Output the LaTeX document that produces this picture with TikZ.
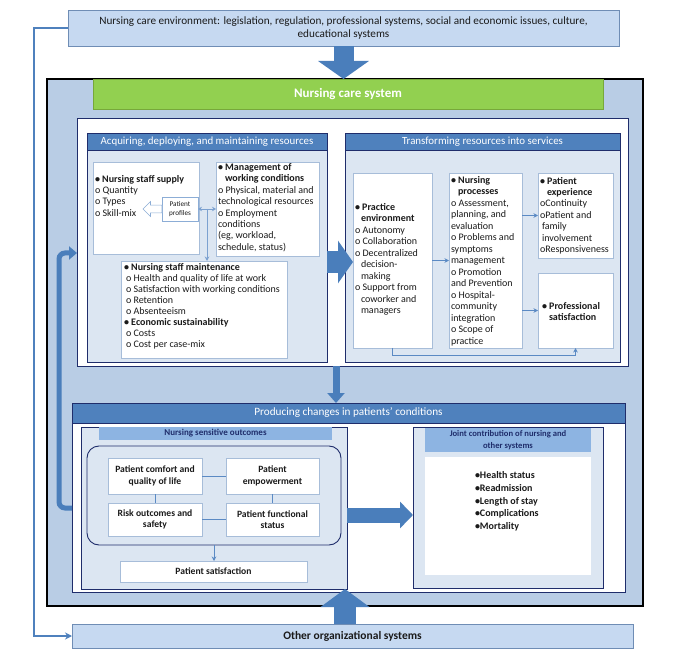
\documentclass[tikz,border=0pt]{standalone}
\usepackage{fontspec}
\setmainfont{Carlito}
\usetikzlibrary{arrows.meta,shapes.arrows,fit,calc}
\definecolor{bgblue}{HTML}{B9CDE5}
\definecolor{envblue}{HTML}{C6D9F1}
\definecolor{envline}{HTML}{6F8DB5}
\definecolor{hdrblue}{HTML}{4F81BD}
\definecolor{secfill}{HTML}{DCE6F2}
\definecolor{navy}{HTML}{1F2D6B}
\definecolor{boxline}{HTML}{A7BDD9}
\definecolor{arrowblue}{HTML}{4A7EBB}
\definecolor{thinblue}{HTML}{5B8AC4}
\definecolor{grn}{HTML}{92D050}
\definecolor{grnline}{HTML}{77A83A}
\definecolor{midblue}{HTML}{8DB4E2}
\definecolor{txtc}{HTML}{1A1A1A}
\begin{document}
\begin{tikzpicture}[x=1pt,y=-1pt,
  every node/.style={inner sep=0pt,outer sep=0pt},
  envbox/.style={draw=envline,fill=envblue,line width=0.9pt},
  frame/.style={draw=navy,line width=0.9pt},
  hdr/.style={fill=hdrblue,draw=navy,line width=0.7pt},
  ibox/.style={draw=boxline,fill=white,line width=0.6pt},
  txt/.style={font=\fontsize{10}{11.4}\selectfont,align=left,anchor=north west,text=txtc},
  btxt/.style={font=\bfseries\fontsize{9.6}{11.5}\selectfont,align=center,text=txtc},
  htxt/.style={font=\fontsize{10.9}{12}\selectfont,text=white},
  thinarr/.style={draw=thinblue,line width=0.8pt,-{Stealth[length=4.5pt,width=4.5pt]}},
  link/.style={draw=thinblue,line width=0.8pt},
  bigarr/.style={draw=arrowblue,line width=#1},
]
\useasboundingbox (0,0) rectangle (675,652);
\fill[white] (0,0) rectangle (675,652);

% outer system
\node[fit={(47,79)(643,606)},draw=black,line width=2pt,fill=bgblue] (sys) {};
\node[fit={(93,79)(603,109)},fill=grn,draw=grnline,line width=0.7pt] (green) {};
\node[font=\bfseries\fontsize{13}{15}\selectfont,text=white] at (green.center) {Nursing care system};

% environment and other systems
\node[fit={(68,10)(619,46)},envbox] (env) {};
\node[font=\fontsize{11.2}{13.5}\selectfont,align=center,text=txtc] at (env.center) {Nursing care environment: legislation, regulation, professional systems, social and economic issues, culture,\\educational systems};
\node[fit={(72,624)(633,648)},envbox] (other) {};
\node[font=\bfseries\fontsize{11.5}{13}\selectfont,text=txtc] at (other.center) {Other organizational systems};

% top white area
\node[fit={(77,118)(628,366)},fill=white,frame] (top) {};

% Acquiring section
\node[fit={(87,133)(327,362)},fill=secfill,frame] (acq) {};
\node[fit={(87,133)(327,150)},hdr] (acqh) {};
\node[htxt] at (acqh.center) {Acquiring, deploying, and maintaining resources};

\node[fit={(93,162)(199,254)},ibox] (supply) {};
\node[txt] at (95,175) {\textbf{• Nursing staff supply}\\o Quantity\\o Types\\o Skill-mix};
\node[fit={(216,162)(319,256)},ibox] (mgmt) {};
\node[txt] at (218,163.5) {\textbf{• Management of}\\\hspace*{7pt}\textbf{working conditions}\\o Physical, material and\\technological resources\\o Employment\\conditions\\(eg, workload,\\schedule, status)};
\node[fit={(121,261)(287,358)},ibox] (maint) {};
\node[txt,font=\fontsize{10}{11.1}\selectfont] at (124,263) {\textbf{• Nursing staff maintenance}\\\hspace*{2pt}o Health and quality of life at work\\\hspace*{2pt}o Satisfaction with working conditions\\\hspace*{2pt}o Retention\\\hspace*{2pt}o Absenteeism\\\textbf{• Economic sustainability}\\\hspace*{2pt}o Costs\\\hspace*{2pt}o Cost per case-mix};
\node[fit={(162,197)(198,221)},draw=thinblue!70,fill=white,line width=0.6pt] (profiles) {};
\node[font=\fontsize{7.2}{8.6}\selectfont,align=center,text=txtc] at (profiles.center) {Patient\\profiles};
\node[single arrow,draw=thinblue!70,fill=white,line width=0.6pt,shape border rotate=180,
      minimum height=19pt,minimum width=15pt,inner sep=3.5pt,single arrow head extend=3.5pt,
      anchor=east] (hollow) at (profiles.west) {};
\coordinate (junc) at ($(profiles.east)!0.5!(mgmt.west |- profiles.east)$);
\draw[draw=thinblue!80,line width=0.8pt,{Stealth[length=4pt,width=4.5pt]}-{Stealth[length=4pt,width=4.5pt]}] (profiles.east) -- (mgmt.west |- profiles.east);
\draw[thinarr,draw=thinblue!80] (junc) -- (junc |- maint.north);

% Transforming section
\node[fit={(345,133)(620,362)},fill=secfill,frame] (trans) {};
\node[fit={(345,133)(620,150)},hdr] (transh) {};
\node[htxt] at (transh.center) {Transforming resources into services};

\node[fit={(353,173)(432,348)},ibox] (practice) {};
\node[txt,font=\fontsize{10}{11.55}\selectfont] at (355,203) {\textbf{• Practice}\\\hspace*{6pt}\textbf{environment}\\o Autonomy\\o Collaboration\\o Decentralized\\\hspace*{6pt}decision-\\\hspace*{6pt}making\\o Support from\\\hspace*{6pt}coworker and\\\hspace*{6pt}managers};
\node[fit={(449,173)(522,348)},ibox] (process) {};
\node[txt,font=\fontsize{10}{11.5}\selectfont] at (451,176) {\textbf{• Nursing}\\\hspace*{7pt}\textbf{processes}\\o Assessment,\\planning, and\\evaluation\\o Problems and\\symptoms\\management\\o Promotion\\and Prevention\\o Hospital-\\community\\integration\\o Scope of\\practice};
\node[fit={(538,173)(613,258)},ibox] (patexp) {};
\node[txt] at (540,177) {\textbf{• Patient}\\\hspace*{7pt}\textbf{experience}\\oContinuity\\oPatient and\\\hspace*{2pt}family\\\hspace*{2pt}involvement\\oResponsiveness};
\node[fit={(538,273)(613,348)},ibox] (profsat) {};
\node[txt] at (542,302) {\textbf{• Professional}\\\hspace*{7pt}\textbf{satisfaction}};

\draw[thinarr] (practice.east) -- (process.west |- practice.east);
\draw[thinarr] (process.east |- patexp.west) -- (patexp.west);
\draw[thinarr] (process.east |- profsat.west) -- (profsat.west);
\draw[thinarr] (practice.south) -- ++(0,7) -| (profsat.south);

% Producing section
\node[fit={(72,403)(625,592)},fill=white,frame] (prod) {};
\node[fit={(72,403)(625,423)},hdr] (prodh) {};
\node[htxt,font=\fontsize{11.2}{13}\selectfont] at (prodh.center) {Producing changes in patients’ conditions};

\node[fit={(81,427)(347,589)},fill=secfill,frame] (nso) {};
\node[fit={(99,427)(332,440)},fill=midblue] (nsoh) {};
\node[font=\bfseries\fontsize{9}{10}\selectfont,text=navy] at (nsoh.center) {Nursing sensitive outcomes};
\node[fit={(87,446)(341,545)},draw=navy,line width=0.9pt,rounded corners=12pt] (rnd) {};
\node[fit={(108,458)(202,494)},ibox] (pc) {};
\node[btxt] at (pc.center) {Patient comfort and\\quality of life};
\node[fit={(226,458)(319,494)},ibox] (emp) {};
\node[btxt] at (emp.center) {Patient\\empowerment};
\node[fit={(108,503)(202,536)},ibox] (risk) {};
\node[btxt] at (risk.center) {Risk outcomes and\\safety};
\node[fit={(226,503)(319,536)},ibox] (func) {};
\node[btxt] at (func.center) {Patient functional\\status};
\node[fit={(120,561)(307,582)},ibox] (satis) {};
\node[btxt] at (satis.center) {Patient satisfaction};
\draw[link] (pc.east) -- (emp.west);
\draw[link] (risk.east) -- (func.west);
\draw[link] (pc.south) -- (risk.north);
\draw[link] (emp.south) -- (func.north);
\draw[thinarr] (rnd.south) -- (rnd.south |- satis.north);

\node[fit={(413,427)(603,588)},fill=secfill,frame] (joint) {};
\node[fit={(425,428)(591,452)},fill=midblue] (jointh) {};
\node[font=\bfseries\fontsize{8.6}{11.5}\selectfont,align=center,text=navy] at (jointh.center) {Joint contribution of nursing and\\other systems};
\node[fit={(425,457)(591,575)},fill=white] (jointw) {};
\node[font=\bfseries\fontsize{10}{12.8}\selectfont,align=left,anchor=north west,text=txtc] at (475,471.5) {•Health status\\•Readmission\\•Length of stay\\•Complications\\•Mortality};

% big arrows
\draw[bigarr=20pt,-{Triangle[length=18pt,width=50pt]}] (env.south) -- (env.south |- green.north);
\coordinate (upbase) at (345,624);
\coordinate (uptip) at (345,589);
\draw[bigarr=22pt,-{Triangle[length=18pt,width=48pt]}] (upbase) -- (uptip);
\coordinate (ra) at (327,262);
\draw[bigarr=22pt,-{Triangle[length=15pt,width=42pt]}] (ra) -- (practice.west |- ra);
\coordinate (da) at (336,366);
\draw[bigarr=7pt,-{Triangle[length=10pt,width=17pt]}] (da) -- (da |- prod.north);
\coordinate (ba) at (347,515);
\draw[bigarr=15pt,-{Triangle[length=13pt,width=26pt]}] (ba) -- (joint.west |- ba);

% feedback arrows
\coordinate (tf2) at (59,508);
\coordinate (tf3) at (59,253);
\draw[bigarr=5pt,rounded corners=6pt,-{Triangle[length=8pt,width=13pt]}] (prod.west |- tf2) -- (tf2) -- (tf3) -- (top.west |- tf3);
\coordinate (fbL) at (34,636);
\draw[draw=hdrblue,line width=1.3pt,-{Stealth[length=7pt,width=7pt]}] (env.west) -| (fbL) -- (other.west);
\end{tikzpicture}
\end{document}
